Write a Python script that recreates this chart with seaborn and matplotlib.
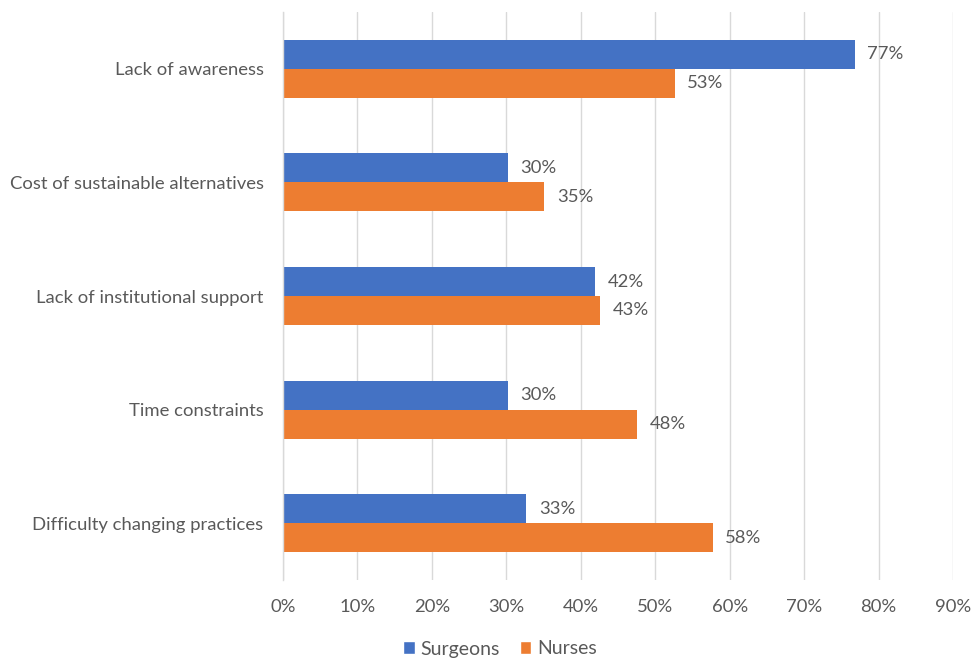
import matplotlib
matplotlib.use("Agg")
import matplotlib.pyplot as plt
import seaborn as sns
import pandas as pd
from matplotlib.ticker import FuncFormatter, MultipleLocator
from matplotlib.patches import Patch

categories = ["Lack of awareness", "Cost of sustainable alternatives",
              "Lack of institutional support", "Time constraints",
              "Difficulty changing practices"]
surgeons = [76.8, 30.2, 41.9, 30.2, 32.7]
nurses = [52.6, 35.1, 42.6, 47.6, 57.7]
series_names = ["Surgeons", "Nurses"]
colors = ["#4472C4", "#ED7D31"]

df = pd.DataFrame({
    "category": categories * 2,
    "value": surgeons + nurses,
    "series": [series_names[0]] * len(categories) + [series_names[1]] * len(categories),
})

sns.set_style("white")
plt.rcParams["font.family"] = ["Lato", "DejaVu Sans"]
text_color = "#595959"
fs = 13.3

fig = plt.figure(figsize=(9.72, 6.58), dpi=100)
ax = fig.add_axes([283 / 972, 1 - 580 / 658, (953 - 283) / 972, (580 - 12) / 658])

sns.barplot(data=df, y="category", x="value", hue="series", order=categories,
            hue_order=series_names, palette=colors, orient="h", width=0.51,
            saturation=1, ax=ax, legend=False, linewidth=0)

ax.set_xlim(0, 90)
ax.set_ylim(4.5, -0.5)
ax.xaxis.set_major_locator(MultipleLocator(10))
ax.xaxis.set_major_formatter(FuncFormatter(lambda v, p: f"{int(round(v))}%"))
ax.grid(axis="x", color="#D9D9D9", linewidth=1)
ax.set_axisbelow(True)
for s in ["top", "right", "bottom"]:
    ax.spines[s].set_visible(False)
ax.spines["left"].set_color("#D9D9D9")
ax.spines["left"].set_linewidth(1)
ax.set_xlabel("")
ax.set_ylabel("")
ax.tick_params(axis="both", length=0, labelsize=fs, colors=text_color)
ax.tick_params(axis="x", pad=14)
ax.tick_params(axis="y", pad=14)

for cont in ax.containers:
    labels = [f"{int(round(b.get_width()))}%" for b in cont]
    ax.bar_label(cont, labels=labels, padding=9, fontsize=fs, color=text_color)

handles = [Patch(facecolor=c, label=n) for c, n in zip(colors, series_names)]
fig.legend(handles=handles, loc="center", bbox_to_anchor=(500 / 972, 1 - 649 / 658),
           ncol=2, frameon=False, fontsize=14, labelcolor=text_color,
           handlelength=0.6, handleheight=0.6, handletextpad=0.3, columnspacing=1.0)

fig.savefig("out.png", dpi=100)
